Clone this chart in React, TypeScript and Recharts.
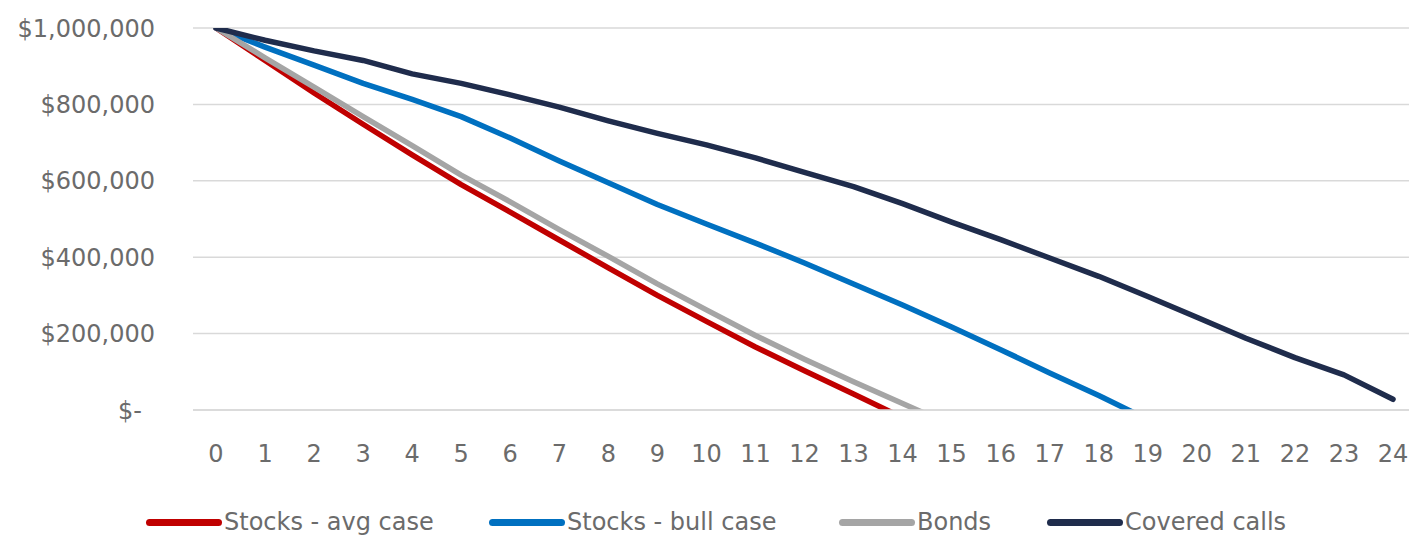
import React from 'react';
import { LineChart, Line, XAxis, YAxis, CartesianGrid, Legend } from 'recharts';

// years on the x axis
const years = [0, 1, 2, 3, 4, 5, 6, 7, 8, 9, 10, 11, 12, 13, 14, 15, 16, 17, 18, 19, 20, 21, 22, 23, 24];

// portfolio value per year (negative values run below the axis and get clipped, like the original)
const stocksAvg = [1000000, 915000, 830000, 748000, 668000, 590000, 518000, 445000, 372000, 300000, 232000, 165000, 103000, 42000, -20000];
const stocksBull = [1000000, 950000, 903000, 855000, 813000, 768000, 712000, 652000, 595000, 538000, 487000, 437000, 385000, 330000, 275000, 217000, 158000, 97000, 38000, -25000];
const bonds = [1000000, 922000, 845000, 768000, 692000, 615000, 545000, 472000, 402000, 330000, 262000, 195000, 133000, 74000, 17000, -40000];
const coveredCalls = [1000000, 968000, 940000, 915000, 880000, 855000, 825000, 793000, 757000, 724000, 694000, 660000, 622000, 585000, 540000, 492000, 446000, 398000, 350000, 297000, 243000, 188000, 137000, 92000, 28000];

const seriesKeys = ['avg', 'bull', 'bonds', 'calls'];
const seriesNames = ['Stocks - avg case', 'Stocks - bull case', 'Bonds', 'Covered calls'];
const seriesColors = ['#C00000', '#0070C0', '#A5A5A5', '#1F2C4C'];
const yTicks = [0, 200000, 400000, 600000, 800000, 1000000];

const data = years.map((year, i) => ({
  year,
  avg: stocksAvg[i] ?? null,
  bull: stocksBull[i] ?? null,
  bonds: bonds[i] ?? null,
  calls: coveredCalls[i] ?? null,
}));

const FONT = '"DejaVu Sans", sans-serif';
const TEXT = '#6b6b6b';

const YTick = (props: any) => {
  const { x, y, payload } = props;
  const v = payload.value as number;
  const label = v === 0 ? '$-' : '$' + v.toLocaleString('en-US');
  return (
    <text x={v === 0 ? x - 13 : x} y={y} dy="0.36em" textAnchor="end" fill={TEXT} fontSize={24} fontFamily={FONT}>
      {label}
    </text>
  );
};

// legend item left edges, matching the original layout
const legendLefts = [146, 489, 839, 1047];

const ChartLegend = (props: any) => {
  const { payload = [] } = props;
  const items = [...payload].sort((a: any, b: any) => seriesNames.indexOf(a.value) - seriesNames.indexOf(b.value));
  return (
    <div style={{ position: 'relative', height: 40, width: '100%' }}>
      {items.map((p: any, i: number) => (
        <div
          key={p.value}
          style={{
            position: 'absolute', left: legendLefts[i], top: 15, height: 24,
            display: 'flex', alignItems: 'center', whiteSpace: 'nowrap',
          }}
        >
          <span style={{ display: 'inline-block', width: 76, height: 7, borderRadius: 4, background: p.color, marginRight: 2 }} />
          <span style={{ fontFamily: FONT, fontSize: 24, color: TEXT, lineHeight: '24px' }}>{p.value}</span>
        </div>
      ))}
    </div>
  );
};

export default function App() {
  return (
    <div style={{ position: 'absolute', left: 0, top: 0, width: 1409, height: 535, overflow: 'hidden', background: '#fff' }}>
      <LineChart width={1416} height={535} data={data} margin={{ top: 28, right: 0, left: 0, bottom: 0 }}>
        <CartesianGrid vertical={false} stroke="#D9D9D9" strokeWidth={1.5} />
        <XAxis
          dataKey="year"
          type="category"
          interval={0}
          padding={{ left: 23, right: 23 }}
          axisLine={{ stroke: '#D9D9D9', strokeWidth: 1.5 }}
          tickLine={false}
          tickSize={0}
          tickMargin={35}
          height={85}
          tick={{ fill: TEXT, fontSize: 24, fontFamily: FONT }}
        />
        <YAxis
          width={193}
          domain={[0, 1000000]}
          ticks={yTicks}
          allowDataOverflow
          axisLine={false}
          tickLine={false}
          tickSize={0}
          tickMargin={38}
          tick={<YTick />}
        />
        <Legend verticalAlign="bottom" height={40} content={<ChartLegend />} />
        {seriesKeys.map((key, i) => (
          <Line
            key={key}
            type="linear"
            dataKey={key}
            name={seriesNames[i]}
            stroke={seriesColors[i]}
            strokeWidth={5.5}
            strokeLinejoin="round"
            strokeLinecap="round"
            dot={false}
            activeDot={false}
            isAnimationActive={false}
          />
        ))}
      </LineChart>
    </div>
  );
}
